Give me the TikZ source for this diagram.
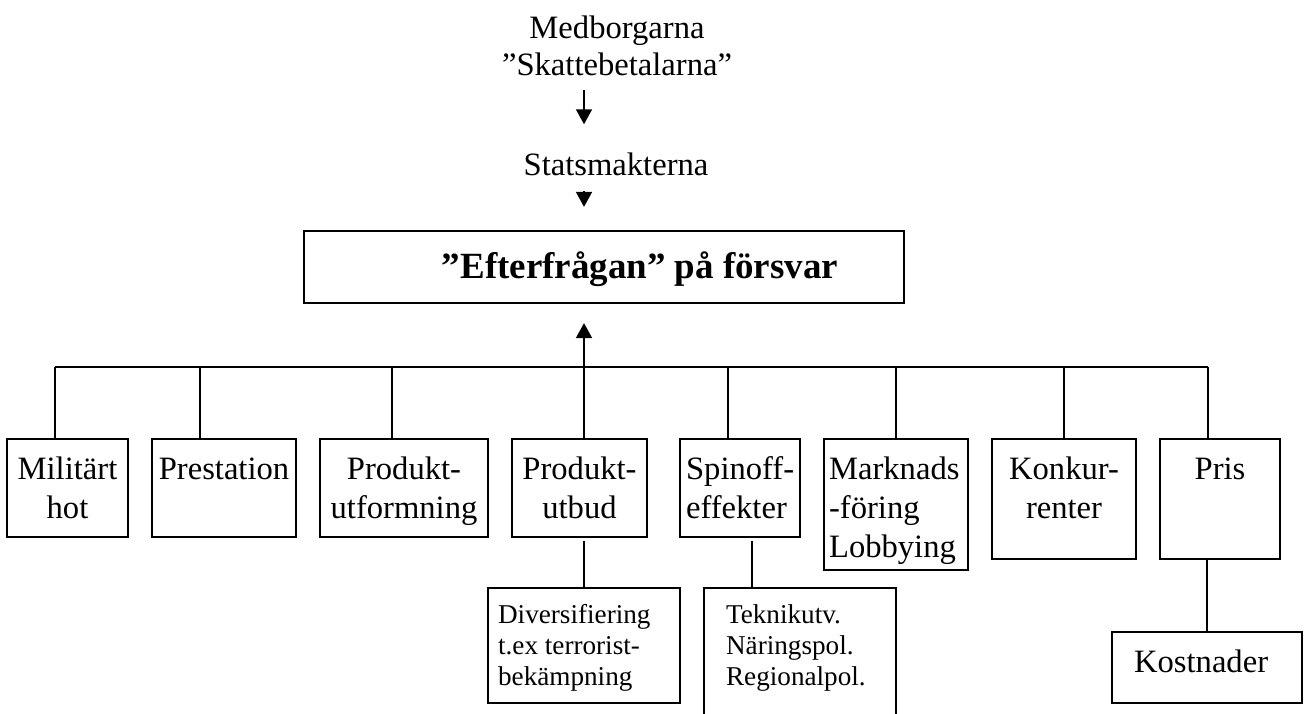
\documentclass[tikz,border=0pt]{standalone}
\usepackage{fontspec}
\setmainfont{Liberation Serif}
\usetikzlibrary{arrows.meta,fit,calc}
\begin{document}
\begin{tikzpicture}[x=0.368pt,y=-0.368pt,
  line width=0.8pt,
  box/.style={draw, line width=0.8pt, inner sep=0pt, fit={#1}},
  body/.style={font=\fontsize{12}{14.35}\selectfont, inner sep=0pt},
  head/.style={font=\fontsize{12}{13.6}\selectfont, inner sep=0pt},
  small/.style={font=\fontsize{10}{11.4}\selectfont, inner sep=0pt, align=left, anchor=north west},
  arr/.style={-{Triangle[length=5.5pt,width=5.8pt]}}]
\useasboundingbox (0,0) rectangle (1304,713);
\fill[white] (0,0) rectangle (1304,713);
\clip (0,0) rectangle (1304,713);

% column of the main flow
\coordinate (col) at (584,0);

% citizens and state
\node[head, align=center, anchor=north] (med) at (617,11.1)
  {\strut Medborgarna\\”Skattebetalarna”};
\node[head, anchor=base] (stat) at (616,175) {Statsmakterna};

% demand box
\node[box={(304,231) (904,303)}] (title) {};
\node[font=\fontsize{13.6}{16}\selectfont\bfseries, inner sep=0pt, anchor=base] (titleT)
  at (640,278) {”Efterfrågan” på försvar};

\draw[arr] ($(med.south -| col)+(0,14)$) -- ($(stat.north -| col)+(0,-27)$);
\draw[arr] ($(stat.south -| col)+(0,15)$) -- ($(title.north -| col)+(0,-23)$);

% factor boxes
\node[box={(7,439) (128,537)}] (mil) {};
\node[box={(152,439) (296,537)}] (prest) {};
\node[box={(320,439) (488,537)}] (form) {};
\node[box={(512,439) (647,537)}] (utbud) {};
\node[box={(680,439) (800,537)}] (spin) {};
\node[box={(824,439) (968,570)}] (mark) {};
\node[box={(992,439) (1136,559)}] (konk) {};
\node[box={(1160,439) (1280,559)}] (pris) {};

\node[body, align=center, anchor=north] (milT) at (67.5,450.7) {\strut Militärt\\hot};
\node[body, align=center, anchor=north] (prestT) at (224,450.7) {\strut Prestation};
\node[body, align=center, anchor=north] (formT) at (404,450.7) {\strut Produkt-\\utformning};
\node[body, align=center, anchor=north] (utbudT) at (579.5,450.7) {\strut Produkt-\\utbud};
\node[body, align=left, anchor=north west] (spinT) at (685,450.7) {\strut Spinoff-\\effekter};
\node[body, align=left, anchor=north west] (markT) at (828,450.7) {\strut Marknads\\-föring\\Lobbying};
\node[body, align=center, anchor=north] (konkT) at (1064,450.7) {\strut Konkur-\\renter};
\node[body, align=center, anchor=north] (prisT) at (1220,450.7) {\strut Pris};

% sub boxes
\node[box={(488,588) (680,703)}] (div) {};
\node[box={(704,588) (896,740)}] (tek) {};
\node[box={(1112,632) (1302,703)}] (kost) {};

\node[small] (divT) at (497,600.3) {\strut Diversifiering\\t.ex terrorist-\\bekämpning};
\node[small] (tekT) at (725,600.3) {\strut Teknikutv.\\Näringspol.\\Regionalpol.};
\node[body, anchor=base west] (kostT) at (1133,672) {Kostnader};

% bus collecting the factors
\coordinate (b1) at (55,367);
\coordinate (b2) at (200,367);
\coordinate (b3) at (392,367);
\coordinate (b4) at (584,367);
\coordinate (b5) at (728,367);
\coordinate (b6) at (896,367);
\coordinate (b7) at (1064,367);
\coordinate (b8) at (1208,367);
\coordinate (sdrop) at (752,0);

\draw (b1) -- (b8);
\draw (b1) -- (b1 |- mil.north);
\draw (b2) -- (b2 |- prest.north);
\draw (b3) -- (b3 |- form.north);
\draw (b4) -- (b4 |- utbud.north);
\draw (b5) -- (b5 |- spin.north);
\draw (b6) -- (b6 |- mark.north);
\draw (b7) -- (b7 |- konk.north);
\draw (b8) -- (b8 |- pris.north);
\draw[arr] (b4) -- ($(title.south -| b4)+(0,19)$);

% links to the sub boxes
\draw ($(utbud.south -| div.north)+(0,3)$) -- (div.north);
\draw ($(spin.south -| sdrop)+(0,3)$) -- (tek.north -| sdrop);
\draw (pris.south -| kost.north) -- (kost.north);
\end{tikzpicture}
\end{document}
